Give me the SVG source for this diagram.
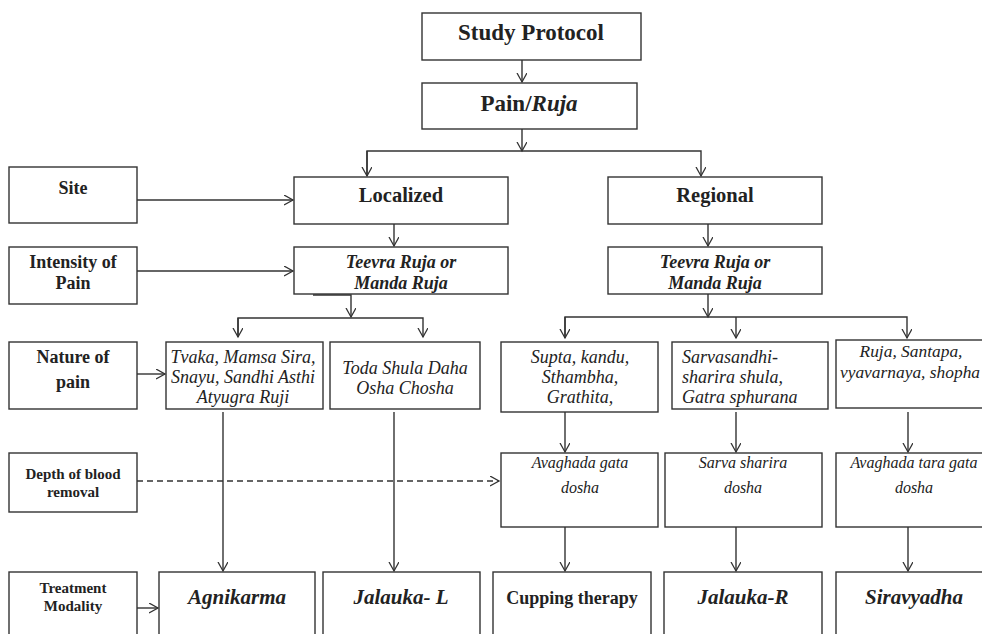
<svg xmlns="http://www.w3.org/2000/svg" width="982" height="634" viewBox="0 0 982 634">
<defs>
<marker id="arr" markerUnits="userSpaceOnUse" markerWidth="12" markerHeight="12" refX="9" refY="5" orient="auto">
<path d="M0,0 L9,5 L0,10" fill="none" stroke="#333" stroke-width="1.3"/>
</marker>
<style>
.box{fill:#fff;stroke:#333;stroke-width:1.4}
.c{fill:none;stroke:#333;stroke-width:1.4}
.t{font-family:"Liberation Serif","Times New Roman",serif;fill:#222;text-anchor:middle}
.b{font-weight:bold}
.i{font-style:italic}
</style>
</defs>
<rect width="982" height="634" fill="#fff"/>

<g id="connectors">
<path class="c" d="M522,60 V82" marker-end="url(#arr)"/>
<path class="c" d="M522,129 V151" marker-end="url(#arr)"/>
<path class="c" d="M367,176 V151 H701 V176" marker-end="url(#arr)"/>
<path class="c" d="M367,151 V176" marker-end="url(#arr)"/>
<path class="c" d="M137,200 H293" marker-end="url(#arr)"/>
<path class="c" d="M137,271 H293" marker-end="url(#arr)"/>
<path class="c" d="M394,224 V246" marker-end="url(#arr)"/>
<path class="c" d="M708,224 V246" marker-end="url(#arr)"/>
<path class="c" d="M313,295 H351 V317" marker-end="url(#arr)"/>
<path class="c" d="M238,337 V318 H423 V337" marker-end="url(#arr)"/>
<path class="c" d="M238,318 V337" marker-end="url(#arr)"/>
<path class="c" d="M708,294 V317" marker-end="url(#arr)"/>
<path class="c" d="M565,338 V317 H907 V338" marker-end="url(#arr)"/>
<path class="c" d="M565,317 V338" marker-end="url(#arr)"/>
<path class="c" d="M736,317 V338" marker-end="url(#arr)"/>
<path class="c" d="M137,374 H165" marker-end="url(#arr)"/>
<path class="c" d="M223,412 V571" marker-end="url(#arr)"/>
<path class="c" d="M394,412 V571" marker-end="url(#arr)"/>
<path class="c" d="M565,412 V452" marker-end="url(#arr)"/>
<path class="c" d="M736,412 V452" marker-end="url(#arr)"/>
<path class="c" d="M908,412 V452" marker-end="url(#arr)"/>
<path class="c" d="M137,481 H499" stroke-dasharray="6,4" marker-end="url(#arr)"/>
<path class="c" d="M565,527 V571" marker-end="url(#arr)"/>
<path class="c" d="M736,527 V571" marker-end="url(#arr)"/>
<path class="c" d="M908,527 V571" marker-end="url(#arr)"/>
<path class="c" d="M137,608 H158" marker-end="url(#arr)"/>
</g>

<g id="study-protocol"><rect class="box" x="422" y="13" width="219" height="47"/><text class="t b" x="531" y="40" font-size="23">Study Protocol</text></g>
<g id="pain-ruja"><rect class="box" x="422" y="83" width="215" height="46"/><text class="t b" x="529" y="111" font-size="23">Pain/<tspan class="i">Ruja</tspan></text></g>

<g id="site"><rect class="box" x="9" y="167" width="128" height="56"/><text class="t b" x="73" y="194" font-size="18">Site</text></g>
<g id="localized"><rect class="box" x="294" y="177" width="214" height="47"/><text class="t b" x="401" y="202" font-size="20.5">Localized</text></g>
<g id="regional"><rect class="box" x="608" y="177" width="214" height="47"/><text class="t b" x="715" y="202" font-size="20.5">Regional</text></g>

<g id="intensity"><rect class="box" x="9" y="247" width="128" height="57"/><text class="t b" font-size="18"><tspan x="73" y="268">Intensity of</tspan><tspan x="73" y="289">Pain</tspan></text></g>
<g id="teevra-l"><rect class="box" x="294" y="247" width="214" height="47"/><text class="t b i" font-size="18"><tspan x="401" y="268">Teevra Ruja or</tspan><tspan x="401" y="289">Manda Ruja</tspan></text></g>
<g id="teevra-r"><rect class="box" x="608" y="247" width="214" height="47"/><text class="t b i" font-size="18"><tspan x="715" y="268">Teevra Ruja or</tspan><tspan x="715" y="289">Manda Ruja</tspan></text></g>

<g id="nature"><rect class="box" x="9" y="342" width="128" height="67"/><text class="t b" font-size="18"><tspan x="73" y="363">Nature of</tspan><tspan x="73" y="388">pain</tspan></text></g>
<g id="tvaka"><rect class="box" x="166" y="342" width="157" height="67"/><text class="t i" font-size="18"><tspan x="243" y="363">Tvaka, Mamsa Sira,</tspan><tspan x="243" y="383">Snayu, Sandhi Asthi</tspan><tspan x="243" y="403">Atyugra Ruji</tspan></text></g>
<g id="toda"><rect class="box" x="330" y="342" width="150" height="67"/><text class="t i" font-size="18"><tspan x="405" y="374">Toda Shula Daha</tspan><tspan x="405" y="394">Osha Chosha</tspan></text></g>
<g id="supta"><rect class="box" x="501" y="342" width="157" height="70"/><text class="t i" font-size="18"><tspan x="580" y="363">Supta, kandu,</tspan><tspan x="580" y="383">Sthambha,</tspan><tspan x="580" y="403">Grathita,</tspan></text></g>
<g id="sarvasandhi"><rect class="box" x="672" y="342" width="156" height="67"/><text class="t i" font-size="18" style="text-anchor:start"><tspan x="682" y="363">Sarvasandhi-</tspan><tspan x="682" y="383">sharira shula,</tspan><tspan x="682" y="403">Gatra sphurana</tspan></text></g>
<g id="ruja-santapa"><rect class="box" x="836" y="340" width="160" height="68"/><text class="t i" font-size="17.4"><tspan x="911" y="357">Ruja, Santapa,</tspan><tspan x="910" y="378">vyavarnaya, shopha</tspan></text></g>

<g id="depth"><rect class="box" x="9" y="453" width="128" height="59"/><text class="t b" font-size="15"><tspan x="73" y="479">Depth of blood</tspan><tspan x="73" y="497">removal</tspan></text></g>
<g id="avaghada-gata"><rect class="box" x="501" y="453" width="157" height="74"/><text class="t i" font-size="16"><tspan x="580" y="468">Avaghada gata</tspan><tspan x="580" y="493">dosha</tspan></text></g>
<g id="sarva-sharira"><rect class="box" x="665" y="453" width="157" height="74"/><text class="t i" font-size="16"><tspan x="743" y="468">Sarva sharira</tspan><tspan x="743" y="493">dosha</tspan></text></g>
<g id="avaghada-tara"><rect class="box" x="836" y="453" width="160" height="74"/><text class="t i" font-size="16"><tspan x="914" y="468">Avaghada tara gata</tspan><tspan x="914" y="493">dosha</tspan></text></g>

<g id="treatment"><rect class="box" x="9" y="572" width="128" height="80"/><text class="t b" font-size="15"><tspan x="73" y="593">Treatment</tspan><tspan x="73" y="611">Modality</tspan></text></g>
<g id="agnikarma"><rect class="box" x="159" y="572" width="156" height="80"/><text class="t b i" x="237" y="604" font-size="21">Agnikarma</text></g>
<g id="jalauka-l"><rect class="box" x="323" y="572" width="157" height="80"/><text class="t b i" x="401" y="604" font-size="21">Jalauka- L</text></g>
<g id="cupping"><rect class="box" x="493" y="572" width="158" height="80"/><text class="t b" x="572" y="604" font-size="18">Cupping therapy</text></g>
<g id="jalauka-r"><rect class="box" x="664" y="572" width="158" height="80"/><text class="t b i" x="743" y="604" font-size="21">Jalauka-R</text></g>
<g id="siravyadha"><rect class="box" x="836" y="572" width="160" height="80"/><text class="t b i" x="914" y="604" font-size="21">Siravyadha</text></g>
</svg>
